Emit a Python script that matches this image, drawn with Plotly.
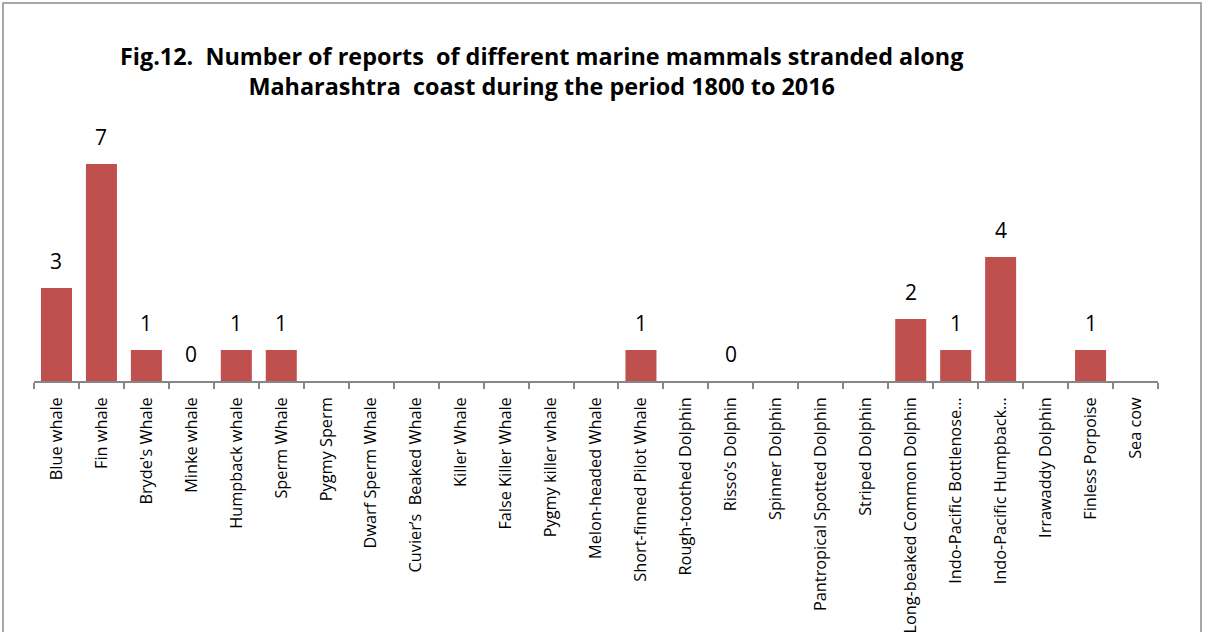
import plotly.graph_objects as go

categories = [
    "Blue whale", "Fin whale", "Bryde's Whale", "Minke whale", "Humpback whale",
    "Sperm Whale", "Pygmy Sperm", "Dwarf Sperm Whale", "Cuvier\u2019s  Beaked Whale",
    "Killer Whale", "False Killer Whale", "Pygmy killer whale", "Melon-headed Whale",
    "Short-finned Pilot Whale", "Rough-toothed Dolphin", "Risso\u2019s Dolphin",
    "Spinner Dolphin", "Pantropical Spotted Dolphin", "Striped Dolphin",
    "Long-beaked Common Dolphin", "Indo-Pacific Bottlenose\u2026",
    "Indo-Pacific Humpback\u2026", "Irrawaddy Dolphin", "Finless Porpoise", "Sea cow",
]
values = [3, 7, 1, 0, 1, 1, None, None, None, None, None, None, None, 1, None, 0,
          None, None, None, 2, 1, 4, None, 1, None]

L, R, T, B = 34, 1158, 133, 381
W, H = 1205, 632

fig = go.Figure(go.Bar(
    x=categories, y=values,
    marker=dict(color="#C0504D", line=dict(width=0)),
    cliponaxis=False,
))

def px_to_paper_x(px):
    return (px - L) / (R - L)

def px_to_paper_y(py):
    return (B - py) / (B - T)

annotations = [dict(
    text="<b>Fig.12.  Number of reports  of different marine mammals stranded along</b><br><b>Maharashtra  coast during the period 1800 to 2016</b>",
    x=px_to_paper_x(541), y=px_to_paper_y(71), xref="paper", yref="paper",
    xanchor="center", yanchor="middle", showarrow=False, align="center",
    font=dict(family="Open Sans", size=23.4, color="#000000"),
)]
for c, v in zip(categories, values):
    if v is None:
        continue
    annotations.append(dict(
        x=c, y=v, xref="x", yref="y", text=str(v), showarrow=False,
        xanchor="center", yanchor="middle", yshift=27,
        font=dict(family="Open Sans", size=21, color="#000000"),
    ))

fig.update_layout(
    width=W, height=H,
    margin=dict(l=L, r=W - R, t=T, b=H - B, autoexpand=False),
    paper_bgcolor="white", plot_bgcolor="white",
    bargap=0.31,
    showlegend=False,
    xaxis=dict(
        type="category", tickangle=-90, showline=True, linecolor="#868686", linewidth=1.5,
        ticks="outside", tickson="boundaries", ticklen=6, tickcolor="#868686", tickwidth=1.5,
        tickfont=dict(family="Open Sans", size=16.3, color="#000000"),
        ticklabelstandoff=8,
        showgrid=False, automargin=False,
    ),
    yaxis=dict(range=[0, 8], visible=False, showgrid=False, automargin=False),
    annotations=annotations,
    shapes=[dict(
        type="rect", xref="paper", yref="paper",
        x0=px_to_paper_x(3), x1=px_to_paper_x(1201),
        y0=px_to_paper_y(700), y1=px_to_paper_y(3),
        line=dict(color="#8C8C8C", width=1.5), fillcolor="rgba(0,0,0,0)", layer="below",
    )],
)

fig.write_html("out.html")
